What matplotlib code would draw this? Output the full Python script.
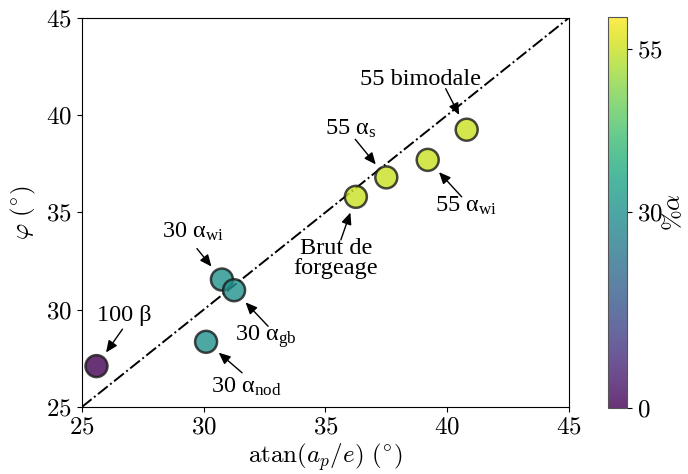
"""Friction angle vs. atan(a_p/e) for the forged alloys, coloured by %alpha."""

import matplotlib
matplotlib.use("Agg")
import matplotlib.pyplot as plt

plt.rcParams["mathtext.fontset"] = "cm"
plt.rcParams["font.family"] = "serif"
plt.rcParams["font.serif"] = ["cmr10", "DejaVu Serif"]
plt.rcParams["axes.formatter.use_mathtext"] = True
plt.rcParams["axes.unicode_minus"] = False

# Data
labels = [r"100 β", r"30 $\mathregular{α_{wi}}$", r"30 $\mathregular{α_{gb}}$",
          r"30 $\mathregular{α_{nod}}$", "Brut de\nforgeage",
          r"55 $\mathregular{α_{s}}$", r"55 $\mathregular{α_{wi}}$", "55 bimodale"]
atan_ap_e = [25.6, 30.75, 31.25, 30.1, 36.25, 37.5, 39.2, 40.8]
phi = [27.1, 31.55, 31.0, 28.35, 35.8, 36.8, 37.7, 39.25]
pct_alpha = [0, 30, 30, 30, 55, 55, 55, 55]

# label offsets (pixels from point) : text centre, arrow tail
text_off = [(28, 51), (-29, 48), (32, -46), (40, -45),
            (-20, -62), (-36, 49), (38, -46), (-46, 50)]
tail_off = [(26, 37), (-25, 31), (34, -36), (36, -31),
            (-15, -43), (-31, 38), (34, -37), (-21, 41)]

ANNOT_FONT = "Liberation Serif"


def main():
    fig = plt.figure(figsize=(6.88, 4.74), dpi=100)
    ax = fig.add_axes([0.119, 0.1414, 0.708, 0.821])
    cax = fig.add_axes([0.884, 0.139, 0.028, 0.826])

    ax.plot([25, 45], [25, 45], color="black", ls="-.", lw=1.4, zorder=1)

    sc = ax.scatter(atan_ap_e, phi, c=pct_alpha, cmap="viridis", vmin=0, vmax=60,
                    s=250, alpha=0.8, edgecolors="#1a1a1a", linewidths=1.8,
                    zorder=3)

    for x, y, lab, (tx, ty), (ax_, ay_) in zip(atan_ap_e, phi, labels,
                                               text_off, tail_off):
        ax.annotate("", xy=(x, y), xytext=(ax_, ay_), textcoords="offset pixels",
                    arrowprops=dict(arrowstyle="-|>,head_length=0.5,head_width=0.22",
                                    color="black", lw=1.0,
                                    mutation_scale=14, shrinkA=0, shrinkB=12),
                    zorder=4)
        ax.annotate(lab, xy=(x, y), xytext=(tx, ty), textcoords="offset pixels",
                    ha="center", va="center", fontsize=17.5, family=ANNOT_FONT,
                    linespacing=0.95, zorder=5)

    ax.set_xlim(25, 45)
    ax.set_ylim(25, 45)
    ax.set_xticks([25, 30, 35, 40, 45])
    ax.set_yticks([25, 30, 35, 40, 45])
    ax.tick_params(labelsize=18)
    ax.set_xlabel(r"$\mathrm{atan}(a_p/e)\ (^{\!\circ\!})$", fontsize=18,
                  labelpad=2)
    ax.set_ylabel(r"$\varphi\ (^{\!\circ\!})$", fontsize=18, labelpad=6)

    cb = fig.colorbar(sc, cax=cax, ticks=[0, 30, 55])
    cb.ax.tick_params(labelsize=18)
    cb.outline.set_edgecolor("#555555")
    cb.set_label(r"$\%\alpha$", fontsize=18, labelpad=-1)

    fig.savefig("out.png", dpi=100, facecolor="white")
    plt.close(fig)


if __name__ == "__main__":
    main()
